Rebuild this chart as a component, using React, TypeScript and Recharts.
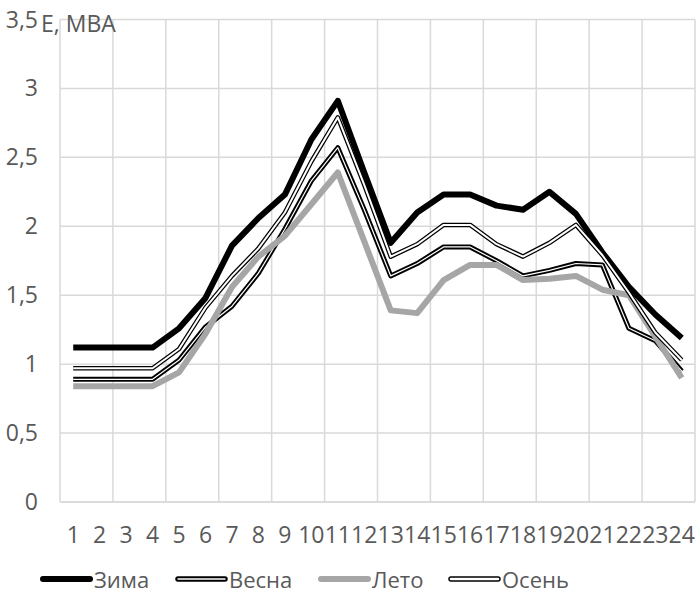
import React from 'react';
import { LineChart, Line, XAxis, YAxis, CartesianGrid, Legend } from 'recharts';

const hours = ['1','2','3','4','5','6','7','8','9','10','11','12','13','14','15','16','17','18','19','20','21','22','23','24'];
const zima =  [1.12,1.12,1.12,1.12,1.26,1.48,1.86,2.06,2.23,2.63,2.91,2.39,1.88,2.10,2.23,2.23,2.15,2.12,2.25,2.09,1.81,1.56,1.36,1.19];
const vesna = [0.89,0.89,0.89,0.89,1.03,1.27,1.42,1.66,1.98,2.33,2.57,2.12,1.64,1.73,1.85,1.85,1.75,1.64,1.68,1.73,1.72,1.26,1.17,0.95];
const leto =  [0.84,0.84,0.84,0.84,0.94,1.22,1.56,1.78,1.93,2.16,2.39,1.89,1.39,1.37,1.61,1.72,1.72,1.61,1.62,1.64,1.54,1.50,1.20,0.90];
const osen =  [0.97,0.97,0.97,0.97,1.11,1.41,1.64,1.84,2.10,2.47,2.79,2.30,1.78,1.87,2.01,2.01,1.87,1.78,1.88,2.01,1.79,1.52,1.23,1.03];
const yTicks = [0, 0.5, 1, 1.5, 2, 2.5, 3, 3.5];
const seriesNames = ['Зима', 'Весна', 'Лето', 'Осень'];
const axisTitle = 'Е, МВА';

const data = hours.map((h, i) => ({ hour: h, zima: zima[i], vesna: vesna[i], leto: leto[i], osen: osen[i] }));

const FONT = '"Open Sans", sans-serif';
const TEXT = '#595959';
const GRID = '#d9d9d9';

const XTick = (props: any) => {
  const { x, y, payload } = props;
  return (
    <text x={x} y={y + 33} textAnchor="middle" fontFamily={FONT} fontSize={23} fill={TEXT}>
      {payload.value}
    </text>
  );
};

const YTick = (props: any) => {
  const { y, payload } = props;
  return (
    <text x={38} y={y + 8} textAnchor="end" fontFamily={FONT} fontSize={23} fill={TEXT}>
      {String(payload.value).replace('.', ',')}
    </text>
  );
};

const LegendIcon = ({ kind }: { kind: number }) => {
  const w = 53;
  return (
    <svg width={w} height={12} style={{ display: 'block' }}>
      {kind === 0 && <line x1={3} y1={6} x2={w - 3} y2={6} stroke="#000" strokeWidth={6} strokeLinecap="round" />}
      {kind === 1 && (
        <g>
          <line x1={3} y1={6} x2={w - 3} y2={6} stroke="#000" strokeWidth={5.5} strokeLinecap="round" />
          <line x1={3} y1={6} x2={w - 3} y2={6} stroke="#fff" strokeWidth={1.4} strokeLinecap="round" />
        </g>
      )}
      {kind === 2 && <line x1={3} y1={6} x2={w - 3} y2={6} stroke="#a6a6a6" strokeWidth={6} strokeLinecap="round" />}
      {kind === 3 && (
        <g>
          <line x1={3} y1={6} x2={w - 3} y2={6} stroke="#000" strokeWidth={5.5} strokeLinecap="round" />
          <line x1={3} y1={6} x2={w - 3} y2={6} stroke="#fff" strokeWidth={2.6} strokeLinecap="round" />
        </g>
      )}
    </svg>
  );
};

const legendLefts = [40, 175, 318, 448];

const LegendContent = () => (
  <div style={{ position: 'relative', width: 696, height: 30 }}>
    {seriesNames.map((name, i) => (
      <div key={name} style={{ position: 'absolute', left: legendLefts[i], top: 0, display: 'flex', alignItems: 'center', height: 30 }}>
        <LegendIcon kind={i} />
        <span style={{ fontFamily: FONT, fontSize: 22, color: TEXT, marginLeft: 1, lineHeight: '30px', whiteSpace: 'nowrap' }}>{name}</span>
      </div>
    ))}
  </div>
);

export default function App() {
  return (
    <div style={{ position: 'absolute', left: 0, top: 0, width: 696, height: 594, background: '#fff' }}>
      <LineChart width={696} height={594} data={data} margin={{ top: 19.5, right: 1, bottom: 22, left: 0 }}>
        <CartesianGrid
          stroke={GRID}
          strokeWidth={1.5}
          verticalCoordinatesGenerator={({ offset }: any) =>
            Array.from({ length: 13 }, (_, k) => offset.left + (k * offset.width) / 12)
          }
        />
        <XAxis
          dataKey="hour"
          height={40}
          scale="band"
          tickLine={false}
          axisLine={{ stroke: GRID, strokeWidth: 1.5 }}
          tick={<XTick />}
          interval={0}
        />
        <YAxis
          width={60}
          domain={[0, 3.5]}
          ticks={yTicks}
          tickLine={false}
          axisLine={false}
          tick={<YTick />}
          interval={0}
          label={() => (
            <text x={41} y={32} fontFamily={FONT} fontSize={23} fill={TEXT}>{axisTitle}</text>
          )}
        />
        <Legend
          content={<LegendContent />}
          wrapperStyle={{ position: 'absolute', left: 0, top: 564, width: 696, height: 30 }}
        />
        <Line dataKey="zima" name={seriesNames[0]} stroke="#000" strokeWidth={6} dot={false} isAnimationActive={false} strokeLinejoin="round" legendType="none" />
        <Line dataKey="vesna" name={seriesNames[1]} stroke="#000" strokeWidth={5} dot={false} isAnimationActive={false} strokeLinejoin="round" legendType="none" />
        <Line dataKey="vesna" name="vesna-inner" stroke="#fff" strokeWidth={1.2} dot={false} isAnimationActive={false} strokeLinejoin="round" legendType="none" />
        <Line dataKey="leto" name={seriesNames[2]} stroke="#a6a6a6" strokeWidth={6} dot={false} isAnimationActive={false} strokeLinejoin="round" legendType="none" />
        <Line dataKey="osen" name={seriesNames[3]} stroke="#000" strokeWidth={4.5} dot={false} isAnimationActive={false} strokeLinejoin="round" legendType="none" />
        <Line dataKey="osen" name="osen-inner" stroke="#fff" strokeWidth={2} dot={false} isAnimationActive={false} strokeLinejoin="round" legendType="none" />
      </LineChart>
    </div>
  );
}
